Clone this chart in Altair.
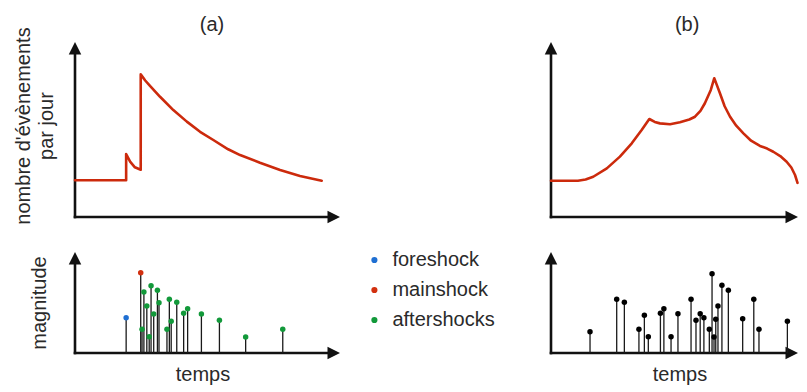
import altair as alt
import pandas as pd

# ---------------- data ----------------
# (a) seismicity rate: time (arbitrary units 0-100) and events per day (0-100)
a_curve_t = [0, 19.3, 19.3, 20.8, 22.6, 24.8, 24.8, 26.5, 28.3, 32.1, 37.1, 42.2, 47.2,
             52.2, 57.8, 62.3, 69.8, 77.4, 84.9, 93.1]
a_curve_r = [21, 21, 36, 31.6, 28.4, 27.0, 81.5, 78.0, 74.9, 68.7, 61.1, 54.5, 48.7,
             44.0, 38.7, 35.4, 31.0, 26.9, 23.4, 20.7]

# (b) seismicity rate of a swarm
b_curve_t = [0, 10.9, 14.0, 17.1, 22.6, 27.9, 32.7, 36.7, 39.8, 42.0, 44.1, 48.2, 52.2,
             56.0, 58.3, 60.5, 62.3, 64.7, 66.1, 67.2, 68.4, 70.3, 72.5, 75.0, 77.9, 81.0,
             84.6, 87.5, 90.0, 92.8, 95.4, 97.3, 98.8, 99.8]
b_curve_r = [20.7, 20.7, 21.4, 23.0, 27.8, 34.5, 42.1, 49.7, 56.0, 54.3, 53.5, 53.0, 54.1,
             55.7, 57.3, 60.6, 65.0, 72.6, 79.3, 75.2, 70.7, 63.3, 57.3, 52.2, 47.8, 43.6,
             40.6, 39.1, 37.3, 34.8, 31.6, 28.3, 24.0, 19.5]

# (a) events: time, magnitude (0-10), type
a_ev_t = [19.3, 24.8, 25.3, 26.0, 27.1, 28.0, 28.7, 29.7, 31.1, 31.7, 34.7, 35.6, 36.3,
          38.4, 41.0, 42.5, 47.7, 54.5, 64.4, 78.4]
a_ev_m = [3.5, 7.95, 2.35, 6.04, 4.65, 1.61, 6.66, 3.86, 6.21, 4.98, 2.35, 5.32, 3.14,
          5.02, 3.93, 4.39, 3.86, 3.24, 1.58, 2.35]
a_ev_type = ["foreshock", "mainshock"] + ["aftershocks"] * 18

# (b) events: time, magnitude
b_ev_t = [15.8, 26.6, 29.7, 35.6, 37.8, 39.4, 44.3, 45.7, 48.6, 51.4, 56.7, 58.7, 60.4,
          61.9, 64.1, 65.2, 66.0, 66.7, 67.6, 69.2, 71.8, 77.6, 82.1, 84.2, 95.7]
b_ev_m = [2.11, 5.32, 5.02, 2.35, 3.73, 1.61, 3.93, 4.39, 1.61, 3.89, 5.32, 3.24, 3.89,
          3.5, 2.35, 7.85, 1.58, 3.34, 4.65, 6.70, 6.21, 3.40, 5.32, 2.35, 3.14]

event_types = ["foreshock", "mainshock", "aftershocks"]
event_colors = ["#1f6fd2", "#d2300f", "#12993a"]

panel_titles = ["(a)", "(b)"]
rate_label = ["nombre d'évènements", "par jour"]
mag_label = "magnitude"
time_label = "temps"

# ---------------- layout / style ----------------
FONT = "Liberation Sans"
INK = "#111111"
TXT = "#2a2a2a"
CURVE = "#cc2a0c"
AX_W = 2.6
ARROW = 12.5
ARROW_SIZE = (2 * ARROW) ** 2
UP = "M0,0L0.5,1L-0.5,1Z"
RIGHT = "M0,0L-1,-0.5L-1,0.5Z"

W_A, W_B, GAP = 342, 288, 160
H_TOP, H_BOT = 228, 146
A_X0, A_PX = 67, 2.65      # px from panel left to t=0, px per time unit
B_X0, B_PX = 41, 2.47
TOP_BASE, R_PX = 209, 1.75  # px from panel top to rate 0, px per rate unit
BOT_BASE, M_PX = 117, 10.1

xdomA = [-A_X0 / A_PX, (W_A - A_X0) / A_PX]
xdomB = [-B_X0 / B_PX, (W_B - B_X0) / B_PX]
ydomTop = [-(H_TOP - TOP_BASE) / R_PX, TOP_BASE / R_PX]
ydomBot = [-(H_BOT - BOT_BASE) / M_PX, BOT_BASE / M_PX]
T_END, R_END, M_END = 100, 100, 10


def X(dom, field="t"):
    return alt.X(f"{field}:Q", scale=alt.Scale(domain=dom, nice=False, zero=False), axis=None)


def Y(dom, field="v"):
    return alt.Y(f"{field}:Q", scale=alt.Scale(domain=dom, nice=False, zero=False), axis=None)


def axes(xdom, ydom, xpx, ypx, y_end):
    vline = pd.DataFrame({"t": [0], "v": [0], "v2": [y_end - ARROW / 2 / ypx]})
    hline = pd.DataFrame({"t": [0], "t2": [T_END - ARROW / 2 / xpx], "v": [0]})
    up = pd.DataFrame({"t": [0], "v": [y_end]})
    right = pd.DataFrame({"t": [T_END], "v": [0]})
    l1 = alt.Chart(vline).mark_rule(strokeWidth=AX_W, color=INK, strokeCap="square").encode(
        x=X(xdom), y=Y(ydom), y2="v2")
    l2 = alt.Chart(hline).mark_rule(strokeWidth=AX_W, color=INK, strokeCap="square").encode(
        x=X(xdom), x2="t2", y=Y(ydom))
    l3 = alt.Chart(up).mark_point(shape=UP, filled=True, size=ARROW_SIZE, color=INK,
                                  opacity=1, strokeWidth=0).encode(x=X(xdom), y=Y(ydom))
    l4 = alt.Chart(right).mark_point(shape=RIGHT, filled=True, size=ARROW_SIZE, color=INK,
                                     opacity=1, strokeWidth=0).encode(x=X(xdom), y=Y(ydom))
    return [l1, l2, l3, l4]


def text_layer(xdom, ydom, rows, angle=0, baseline="alphabetic"):
    df = pd.DataFrame(rows, columns=["t", "v", "label"])
    kw = dict(font=FONT, fontSize=20, color=TXT, align="center", baseline=baseline)
    if angle:
        kw["angle"] = angle
    return alt.Chart(df).mark_text(**kw).encode(x=X(xdom), y=Y(ydom), text="label:N")


def curve_layer(xdom, ts, rs):
    df = pd.DataFrame({"t": ts, "v": rs, "i": range(len(ts))})
    return alt.Chart(df).mark_line(color=CURVE, strokeWidth=2.6, strokeJoin="round",
                                   strokeCap="round").encode(
        x=X(xdom), y=Y(ydomTop), order="i:Q")


# ---------------- top panels ----------------
topA = alt.layer(
    *axes(xdomA, ydomTop, A_PX, R_PX, R_END),
    curve_layer(xdomA, a_curve_t, a_curve_r),
    text_layer(xdomA, ydomTop, [[51.7, 106.3, panel_titles[0]]]),
    text_layer(xdomA, ydomTop, [[-19.2, 52, rate_label[0]], [-10.4, 52, rate_label[1]]],
               angle=270, baseline="middle"),
).properties(width=W_A, height=H_TOP)

topB = alt.layer(
    *axes(xdomB, ydomTop, B_PX, R_PX, R_END),
    curve_layer(xdomB, b_curve_t, b_curve_r),
    text_layer(xdomB, ydomTop, [[55.1, 106.3, panel_titles[1]]]),
).properties(width=W_B, height=H_TOP)

# ---------------- bottom panels ----------------
evA = pd.DataFrame({"t": a_ev_t, "v": a_ev_m, "type": a_ev_type})
evB = pd.DataFrame({"t": b_ev_t, "v": b_ev_m})

stemsA = alt.Chart(evA).mark_rule(strokeWidth=1.3, color="#1a1a1a").encode(
    x=X(xdomA), y=Y(ydomBot), y2=alt.datum(0))
dotsA = alt.Chart(evA).mark_circle(size=30, opacity=1).encode(
    x=X(xdomA), y=Y(ydomBot),
    color=alt.Color("type:N", scale=alt.Scale(domain=event_types, range=event_colors),
                    legend=alt.Legend(title=None, orient="none", legendX=356.4, legendY=14,
                                      symbolType="circle", symbolSize=38, symbolStrokeWidth=0,
                                      symbolOpacity=1, labelFont=FONT, labelFontSize=20,
                                      labelColor=TXT, rowPadding=10, labelOffset=8,
                                      padding=0)))

bottomA = alt.layer(
    *axes(xdomA, ydomBot, A_PX, M_PX, M_END),
    stemsA, dotsA,
    text_layer(xdomA, ydomBot, [[48.3, -2.77, time_label]]),
    text_layer(xdomA, ydomBot, [[-13.2, 4.95, mag_label]], angle=270, baseline="middle"),
).properties(width=W_A, height=H_BOT)

stemsB = alt.Chart(evB).mark_rule(strokeWidth=1.3, color="#1a1a1a").encode(
    x=X(xdomB), y=Y(ydomBot), y2=alt.datum(0))
dotsB = alt.Chart(evB).mark_circle(size=30, opacity=1, color="#000000").encode(
    x=X(xdomB), y=Y(ydomBot))

bottomB = alt.layer(
    *axes(xdomB, ydomBot, B_PX, M_PX, M_END),
    stemsB, dotsB,
    text_layer(xdomB, ydomBot, [[52.2, -2.77, time_label]]),
).properties(width=W_B, height=H_BOT)

chart = alt.concat(
    topA, topB, bottomA, bottomB, columns=2,
    spacing={"row": 0, "column": GAP}, bounds="flush"
).resolve_scale(
    x="independent", y="independent", color="independent"
).properties(padding=0, background="white").configure_view(stroke=None)

chart.save("out.html", embed_options={"renderer": "svg", "actions": False})
